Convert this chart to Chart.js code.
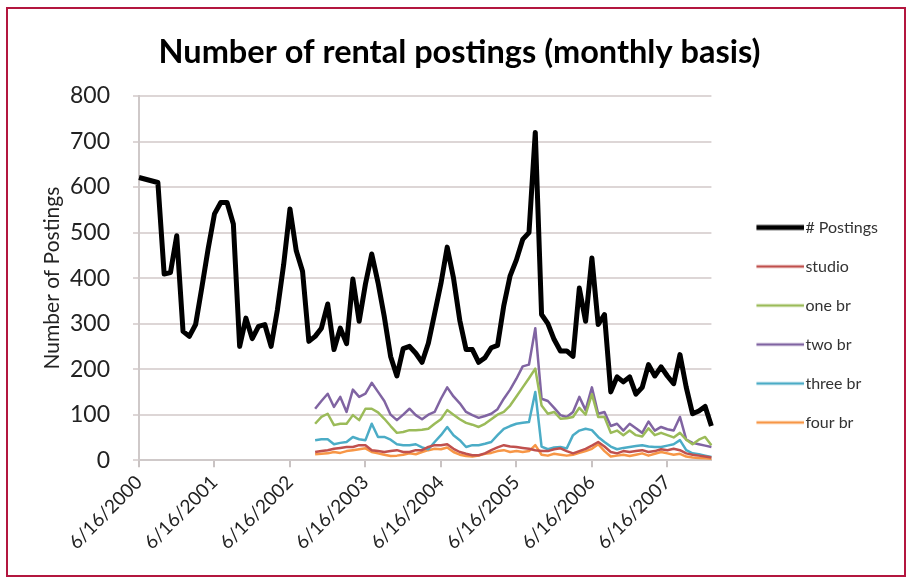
<!DOCTYPE html>
<html><head><meta charset="utf-8">
<script src="https://cdn.jsdelivr.net/npm/chart.js@4/dist/chart.umd.min.js"></script>
<style>
html,body{margin:0;padding:0;background:#fff;}
#wrap{position:relative;width:908px;height:580px;overflow:hidden;}
#frame{position:absolute;left:6px;top:7px;width:896px;height:566px;border:2px solid #b3163f;pointer-events:none;}
canvas{position:absolute;left:0;top:0;}
</style></head><body>
<div id="wrap"><canvas id="c" width="908" height="580" style="width:908px;height:580px"></canvas><div id="frame"></div></div>
<script>
// Monthly categories: June 2000 .. January 2008
const startYear = 2000, startMonth = 6, monthCount = 92;
const tickLabels = ["6/16/2000","6/16/2001","6/16/2002","6/16/2003","6/16/2004","6/16/2005","6/16/2006","6/16/2007"];
const categories = [];
for (let i = 0; i < monthCount; i++) {
  const m = (startMonth - 1 + i) % 12 + 1;
  const y = startYear + Math.floor((startMonth - 1 + i) / 12);
  categories.push(m + "/16/" + y);
}

const postings = [621,null,null,610,409,412,493,283,272,298,
  380,465,541,566,566,519,250,312,267,294,
  298,250,330,430,552,460,415,261,272,290,
  343,243,290,256,398,305,387,453,390,315,
  228,185,245,250,235,215,257,322,388,468,
  400,307,243,243,215,225,247,252,340,405,
  440,485,500,720,320,300,265,240,240,228,
  378,305,444,298,320,150,183,172,183,145,
  160,210,185,205,185,168,232,160,102,108,
  118,75];

// sub-series start at category index 28 (10/16/2002)
const subStart = 28;
const studio = [18,20,22,25,27,29,29,33,33,22,
  20,18,20,22,18,18,22,22,29,33,
  33,35,25,18,14,11,11,15,22,28,
  33,30,29,27,25,22,20,20,24,26,
  20,15,20,25,32,40,30,18,15,20,
  18,20,22,18,20,24,22,25,22,15,
  12,10,8,6];
const oneBr = [80,95,102,77,80,80,99,88,113,113,
  105,91,75,60,62,66,66,67,69,80,
  90,110,100,90,82,78,73,80,90,100,
  106,120,140,160,180,201,120,102,106,91,
  92,95,115,100,145,95,95,60,65,55,
  65,55,52,70,55,60,55,50,60,45,
  35,45,51,33];
const twoBr = [113,130,146,117,139,106,155,139,146,170,
  150,130,100,88,100,113,99,90,100,106,
  135,160,140,125,106,99,93,97,102,112,
  135,155,179,206,210,290,135,130,115,99,
  95,106,139,110,160,102,106,75,80,65,
  80,70,60,85,65,73,68,65,95,45,
  38,35,32,29];
const threeBr = [44,46,46,35,38,40,51,46,44,80,
  51,51,45,35,33,33,35,28,24,40,
  55,73,55,44,29,33,33,36,40,55,
  69,75,80,82,84,150,30,24,28,29,
  26,55,65,69,66,51,40,30,24,27,
  29,31,33,30,29,29,32,35,44,22,
  15,13,10,7];
const fourBr = [13,14,15,18,16,20,22,24,26,18,
  15,12,9,10,12,15,13,18,22,25,
  24,28,18,12,9,8,10,14,16,20,
  22,18,20,18,20,33,12,10,14,12,
  10,12,16,20,25,35,20,8,10,12,
  9,12,15,10,14,18,15,12,14,8,
  6,5,4,3];

const seriesNames = ["# Postings","studio","one br","two br","three br","four br"];
const seriesColors = ["#000000","#c0504d","#9bbb59","#8064a2","#4bacc6","#f79646"];
const seriesWidths = [5, 2.5, 2.5, 2.5, 2.5, 2.5];

function pad(arr){ return new Array(subStart).fill(null).concat(arr); }
const seriesData = [postings, pad(studio), pad(oneBr), pad(twoBr), pad(threeBr), pad(fourBr)];

const FONT = "Lato, 'Open Sans', sans-serif";

// legend sample: a short line, drawn at the right part of a point-style image
const LEG_GAP = 22, LEG_LINE = 48, LEG_TEXTGAP = 8;
const LEG_BOX = LEG_GAP + LEG_LINE - LEG_TEXTGAP + 1;   // pointStyleWidth
function legendLine(color, width) {
  const c = document.createElement('canvas');
  c.width = LEG_BOX + 2 * (LEG_TEXTGAP - 1);
  c.height = 8;
  const g = c.getContext('2d');
  g.strokeStyle = color;
  g.lineWidth = width;
  g.beginPath();
  g.moveTo(LEG_GAP + LEG_TEXTGAP - 1, 4);
  g.lineTo(c.width, 4);
  g.stroke();
  return c;
}

function draw() {
  const legendImgs = seriesColors.map((c, i) => legendLine(c, seriesWidths[i]));
  new Chart(document.getElementById('c'), {
    type: 'line',
    data: {
      labels: categories,
      datasets: seriesData.map((d, i) => ({
        label: seriesNames[i],
        data: d,
        borderColor: seriesColors[i],
        backgroundColor: seriesColors[i],
        borderWidth: seriesWidths[i],
        pointRadius: 0,
        tension: 0,
        spanGaps: true,
        borderJoinStyle: 'round',
        fill: false
      }))
    },
    options: {
      responsive: false,
      animation: false,
      layout: { padding: { left: 31, right: 20, top: 14, bottom: 22 } },
      plugins: {
        title: {
          display: true,
          text: 'Number of rental postings (monthly basis)',
          color: '#000',
          font: { family: FONT, size: 32.5, weight: 'bold' },
          padding: { top: 19, bottom: 24 }
        },
        legend: {
          display: true,
          position: 'right',
          align: 'center',
          title: { display: true, text: '', font: { size: 10 }, padding: { top: 33, bottom: 33 } },
          labels: {
            color: '#333',
            font: { family: FONT, size: 16 },
            usePointStyle: true,
            pointStyleWidth: LEG_BOX,
            boxHeight: 3,
            padding: 23,
            generateLabels: (chart) => chart.data.datasets.map((ds, i) => ({
              text: ds.label,
              fillStyle: ds.borderColor,
              strokeStyle: ds.borderColor,
              lineWidth: 0,
              pointStyle: legendImgs[i],
              hidden: false,
              datasetIndex: i,
              fontColor: '#333'
            }))
          }
        },
        tooltip: { enabled: false }
      },
      scales: {
        x: {
          type: 'category',
          offset: false,
          grid: {
            drawOnChartArea: false,
            drawTicks: true,
            tickLength: 7,
            lineWidth: 2,
            color: (ctx) => (ctx.index % 12 === 0 ? '#c9c3c3' : 'rgba(0,0,0,0)')
          },
          border: { display: true, color: '#cfc9c9', width: 2 },
          ticks: {
            autoSkip: false,
            maxRotation: 45,
            minRotation: 45,
            color: '#222',
            font: { family: FONT, size: 19 },
            padding: 4,
            callback: (val, idx) => (idx % 12 === 0 ? tickLabels[idx / 12] : '')
          }
        },
        y: {
          min: 0,
          max: 800,
          afterFit: (scale) => { scale.width = 108; },
          ticks: {
            stepSize: 100,
            color: '#222',
            font: { family: FONT, size: 23 },
            padding: 23
          },
          grid: { color: '#ddd6d6', lineWidth: 2, tickLength: 6 },
          border: { display: true, color: '#cfc9c9', width: 2 },
          title: {
            display: true,
            text: 'Number of Postings',
            color: '#222',
            font: { family: FONT, size: 21 },
            padding: { top: 9, bottom: 8 }
          }
        }
      }
    }
  });
}

Promise.all([
  document.fonts.load("bold 32px Lato"),
  document.fonts.load("16px Lato"),
  document.fonts.load("23px Lato")
]).then(draw, draw);
</script>
</body></html>
